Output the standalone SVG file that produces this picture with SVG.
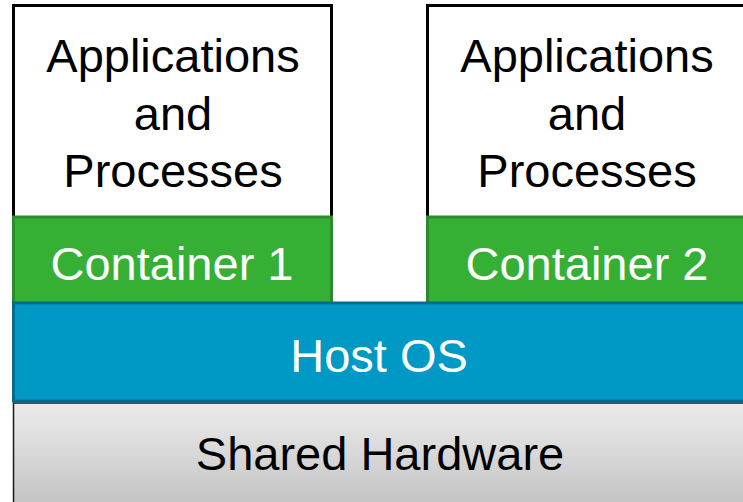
<svg xmlns="http://www.w3.org/2000/svg" width="743" height="502" viewBox="0 0 743 502">
<defs>
<linearGradient id="hw" x1="0" y1="0" x2="0" y2="1">
<stop offset="0" stop-color="#ececec"/>
<stop offset="1" stop-color="#c0c0c0"/>
</linearGradient>
<style>
text{font-family:"Liberation Sans",Arial,sans-serif;text-anchor:middle}
.app{fill:#ffffff;stroke:#000000;stroke-width:3}
.apptxt{font-size:47px;fill:#000000}
.cont{fill:#35b035;stroke:#2b8a2b;stroke-width:3}
.wtxt{font-size:47px;fill:#ffffff}
.host{fill:#0099c5;stroke:#006d8d;stroke-width:3}
.hw{fill:url(#hw);stroke:#1a1a1a;stroke-width:1.5}
</style>
</defs>
<rect width="743" height="502" fill="#ffffff"/>
<g id="hardware">
<rect class="hw" x="13.5" y="403" width="740" height="110"/>
<text x="380" y="470" font-size="47" fill="#000000">Shared Hardware</text>
</g>
<g id="app1">
<rect class="app" x="13.5" y="5.5" width="318" height="215"/>
<text class="apptxt" x="173" y="72">Applications</text>
<text class="apptxt" x="173" y="130">and</text>
<text class="apptxt" x="173" y="187">Processes</text>
</g>
<g id="app2">
<rect class="app" x="427.5" y="5.5" width="330" height="215"/>
<text class="apptxt" x="587" y="72">Applications</text>
<text class="apptxt" x="587" y="130">and</text>
<text class="apptxt" x="587" y="187">Processes</text>
</g>
<g id="container1">
<rect class="cont" x="13.5" y="217" width="318" height="87"/>
<text class="wtxt" x="172" y="280">Container 1</text>
</g>
<g id="container2">
<rect class="cont" x="427.5" y="217" width="330" height="87"/>
<text class="wtxt" x="587" y="280">Container 2</text>
</g>
<g id="hostos">
<rect class="host" x="13.5" y="303" width="740" height="98"/>
<text class="wtxt" x="379" y="372">Host OS</text>
</g>
<g id="connectors"/>
</svg>
